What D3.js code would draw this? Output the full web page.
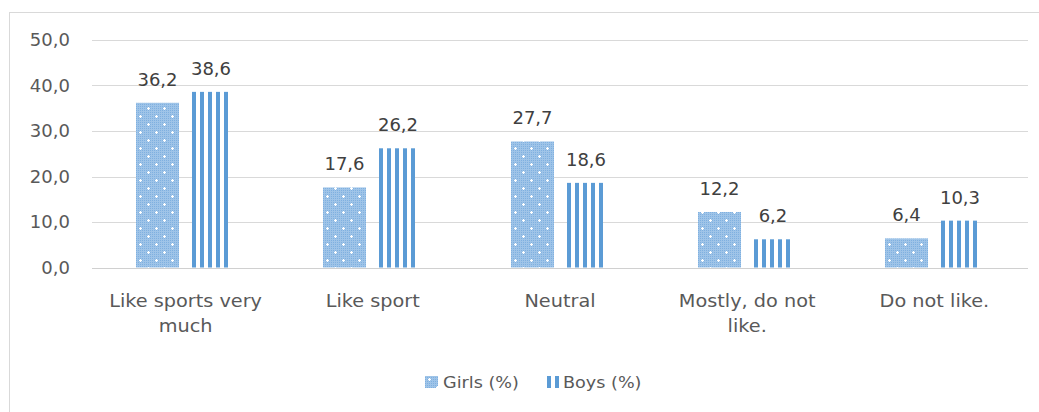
<!DOCTYPE html>
<html><head><meta charset="utf-8">
<script src="https://cdn.jsdelivr.net/npm/d3@7"></script>
<style>body{margin:0;background:#fff;}svg{display:block;font-family:"DejaVu Sans",sans-serif;}</style>
</head><body>
<svg id="c" width="1039" height="412"></svg>
<script>
const categories = [["Like sports very","much"],["Like sport"],["Neutral"],["Mostly, do not","like."],["Do not like."]];
const girls = [36.2, 17.6, 27.7, 12.2, 6.4];
const boys = [38.6, 26.2, 18.6, 6.2, 10.3];
const seriesNames = ["Girls (%)", "Boys (%)"];
const yTicks = [0, 10, 20, 30, 40, 50];

const svg = d3.select("#c");
const blue = "#5B9BD5";
const defs = svg.append("defs");
function girlsPattern(id, ox, oy){
  const pg = defs.append("pattern").attr("id",id).attr("patternUnits","userSpaceOnUse").attr("x",ox).attr("y",oy).attr("width",16).attr("height",16);
  pg.append("rect").attr("width",16).attr("height",16).attr("fill","#9fc4e8");
  for(let i=0;i<16;i+=2)for(let j=0;j<16;j+=2){ pg.append("rect").attr("x",i).attr("y",j).attr("width",1).attr("height",1).attr("fill","#7fb0e0");}
  [[4,4],[12,12]].forEach(([cx,cy])=>{
    pg.append("rect").attr("x",cx-1).attr("y",cy).attr("width",3).attr("height",1).attr("fill","#fff");
    pg.append("rect").attr("x",cx).attr("y",cy-1).attr("width",1).attr("height",3).attr("fill","#fff");
  });
}
function boysPattern(id, ox){
  const pb = defs.append("pattern").attr("id",id).attr("patternUnits","userSpaceOnUse").attr("x",ox).attr("y",0).attr("width",8).attr("height",8);
  pb.append("rect").attr("width",8).attr("height",8).attr("fill","#fff");
  pb.append("rect").attr("width",4).attr("height",8).attr("fill",blue);
}
function stretch(sel, f){
  sel.each(function(){ const w = this.getComputedTextLength(); d3.select(this).attr("textLength", w*f).attr("lengthAdjust","spacingAndGlyphs"); });
}

// outer border
svg.append("rect").attr("x",9.5).attr("y",12.5).attr("width",1040).attr("height",420).attr("fill","none").attr("stroke","#d9d9d9");

const x0 = d3.scaleBand().domain(d3.range(categories.length)).range([92,1028]).paddingInner(0).paddingOuter(0);
const y = d3.scaleLinear().domain([0,50]).range([267.5,40]);

// gridlines
svg.append("g").selectAll("line").data(yTicks).join("line")
  .attr("x1",92).attr("x2",1028).attr("y1",d=>Math.round(y(d))+0.5).attr("y2",d=>Math.round(y(d))+0.5)
  .attr("stroke",d=>d===0?"#d0d0d0":"#d9d9d9").attr("stroke-width",1);

// y axis labels
const fmt = d => d.toFixed(1).replace(".",",");
const yl = svg.append("g").selectAll("text").data(yTicks).join("text")
  .attr("x",70).attr("y",d=>y(d)).attr("dy","0.36em").attr("text-anchor","end")
  .attr("fill","#595959").attr("font-size",17).text(fmt);
stretch(yl, 1.06);

const barW = 43, boyW = 36, gap = 13;
const data = categories.map((c,i)=>({i, g:girls[i], b:boys[i]}));
const gBars = svg.append("g");
data.forEach(d=>{
  const cx = x0(d.i) + x0.bandwidth()/2;
  const xs = [Math.round(cx - gap/2 - barW), Math.round(cx + gap/2)];
  girlsPattern("pG"+d.i, xs[0], 0);
  boysPattern("pB"+d.i, xs[1]);
  [[d.g,"url(#pG"+d.i+")",barW],[d.b,"url(#pB"+d.i+")",boyW]].forEach(([v,fill,w],k)=>{
    gBars.append("rect").attr("x",xs[k]).attr("y",y(v)).attr("width",w).attr("height",y(0)-y(v)).attr("fill",fill);
    const t = gBars.append("text").attr("x",xs[k]+(k===0?barW/2:19)).attr("y",y(v)-17).attr("text-anchor","middle")
      .attr("fill","#404040").attr("font-size",17).text(fmt(v));
    stretch(t, 1.06);
  });
});

// category labels
const cl = svg.append("g");
categories.forEach((lines,i)=>{
  const cx = x0(i)+x0.bandwidth()/2;
  lines.forEach((t,k)=>{
    const tt = cl.append("text").attr("x",cx).attr("y",307+k*25).attr("text-anchor","middle")
      .attr("fill","#595959").attr("font-size",18).text(t);
    stretch(tt, 1.07);
  });
});

// legend
girlsPattern("pGL", 425, 375);
boysPattern("pBL", 547);
const lg = svg.append("g");
const legendItems = [{name:seriesNames[0], fill:"url(#pGL)", x:425, w:13, tx:443},{name:seriesNames[1], fill:"url(#pBL)", x:547, w:12, tx:563}];
legendItems.forEach(it=>{
  lg.append("rect").attr("x",it.x).attr("y",376).attr("width",it.w).attr("height",12).attr("fill",it.fill);
  const t = lg.append("text").attr("x",it.tx).attr("y",388).attr("fill","#595959").attr("font-size",16).text(it.name);
  stretch(t, 1.1);
});
</script>
</body></html>
